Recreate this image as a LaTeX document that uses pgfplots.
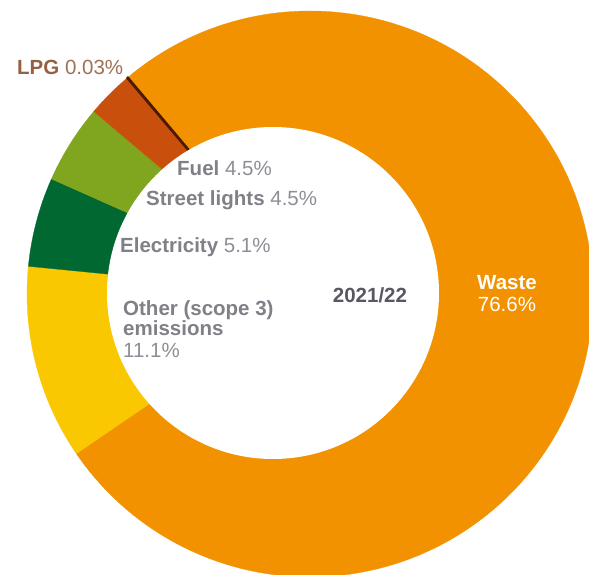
\documentclass[border=0pt]{standalone}
\usepackage{pgfplots}
\usepackage{pgfplotstable}
\pgfplotsset{compat=1.18}
\usepackage{fontspec}
\setmainfont{Liberation Sans}
\definecolor{cWaste}{RGB}{243,146,0}
\definecolor{cOther}{RGB}{250,200,0}
\definecolor{cElec}{RGB}{0,104,48}
\definecolor{cStreet}{RGB}{128,166,31}
\definecolor{cFuel}{RGB}{201,79,12}
\definecolor{cLPG}{RGB}{74,26,5}
\definecolor{lblBrown}{RGB}{150,96,66}
\definecolor{lblBrownL}{RGB}{160,112,84}
\definecolor{lblGray}{RGB}{128,128,136}
\definecolor{lblGrayL}{RGB}{142,142,150}
\definecolor{lblDark}{RGB}{88,88,98}
% slices in clockwise order from the top-left, values in percent
\pgfplotstableread{
label value color lw
Waste 76.6 cWaste 0.3
Other 11.1 cOther 0.3
Electricity 5.1 cElec 0.3
Streetlights 4.5 cStreet 0.3
Fuel 2.67 cFuel 0.3
LPG 0.03 cLPG 2.4
}\piedata
\begin{document}
\begin{tikzpicture}
\useasboundingbox (0,0) rectangle (589pt,574pt);
\clip (0,0) rectangle (589pt,574pt);
\begin{axis}[x=1pt,y=1pt,xmin=0,xmax=589,ymin=0,ymax=574,hide axis,clip=false,
  anchor=south west, at={(0,0)}]
\def\cur{130.1}
\pgfplotsforeachungrouped \i in {0,...,5}{%
  \pgfplotstablegetelem{\i}{value}\of\piedata \let\v\pgfplotsretval
  \pgfplotstablegetelem{\i}{color}\of\piedata \let\c\pgfplotsretval
  \pgfplotstablegetelem{\i}{lw}\of\piedata \let\w\pgfplotsretval
  \pgfmathsetmacro\nxt{\cur-3.6*\v}%
  \edef\temp{\noexpand\fill[\c, draw=\c, line width=\w pt, line join=round]
     (axis cs:310,280) -- ++(\cur:283pt) arc[start angle=\cur, end angle=\nxt, radius=283pt] -- cycle;}%
  \temp
  \global\let\cur\nxt
}
\fill[white] (axis cs:273,281) circle[radius=166pt];
\tikzset{lab/.style={font=\fontsize{20.5}{24}\selectfont, inner sep=0pt, anchor=base west}}
\node[lab] at (axis cs:17,499) {\textcolor{lblBrown}{\textbf{LPG}} \textcolor{lblBrownL}{0.03\%}};
\node[lab] at (axis cs:177,398) {\textcolor{lblGray}{\textbf{Fuel}} \textcolor{lblGrayL}{4.5\%}};
\node[lab] at (axis cs:146,368) {\textcolor{lblGray}{\textbf{Street lights}} \textcolor{lblGrayL}{4.5\%}};
\node[lab] at (axis cs:120,322) {\textcolor{lblGray}{\textbf{Electricity}} \textcolor{lblGrayL}{5.1\%}};
\node[lab] at (axis cs:123,259) {\textcolor{lblGray}{\textbf{Other (scope 3)}}};
\node[lab] at (axis cs:123,239) {\textcolor{lblGray}{\textbf{emissions}}};
\node[lab] at (axis cs:123,217) {\textcolor{lblGrayL}{11.1\%}};
\node[lab, anchor=base] at (axis cs:370,272) {\textcolor{lblDark}{\textbf{2021/22}}};
\node[lab, anchor=base] at (axis cs:507,285) {\textcolor{white}{\textbf{Waste}}};
\node[lab, anchor=base] at (axis cs:507,263) {\textcolor{white}{76.6\%}};
\end{axis}
\end{tikzpicture}
\end{document}
